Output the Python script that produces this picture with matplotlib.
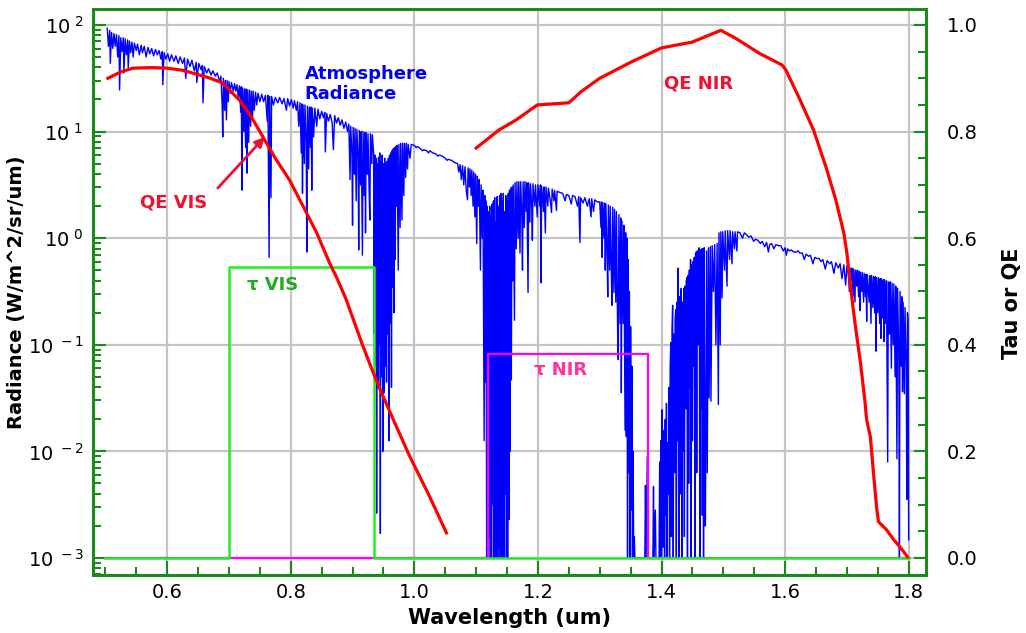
import numpy as np
import matplotlib
matplotlib.use("Agg")
import matplotlib.pyplot as plt
from matplotlib.ticker import FixedLocator, MultipleLocator, FuncFormatter, LogLocator, NullFormatter

# ---------------- data ----------------
# Atmosphere radiance spectrum: (wavelength um, log10 radiance W/m^2/sr/um)
radiance_pts = [
    (0.503, 1.97), (0.505, 1.80), (0.507, 1.95), (0.508, 1.64), (0.510, 1.93), (0.512, 1.78),
    (0.514, 1.92), (0.516, 1.80), (0.518, 1.91), (0.520, 1.70), (0.522, 1.90), (0.523, 1.39),
    (0.525, 1.88), (0.527, 1.75), (0.529, 1.88), (0.530, 1.55), (0.532, 1.87), (0.534, 1.72),
    (0.536, 1.86), (0.537, 1.60), (0.539, 1.85), (0.541, 1.74), (0.543, 1.84), (0.545, 1.70),
    (0.547, 1.83), (0.550, 1.76), (0.552, 1.82), (0.555, 1.72), (0.558, 1.81), (0.560, 1.74),
    (0.563, 1.80), (0.566, 1.70), (0.569, 1.79), (0.572, 1.73), (0.575, 1.78), (0.578, 1.71),
    (0.581, 1.77), (0.584, 1.72), (0.587, 1.76), (0.590, 1.68), (0.592, 1.75), (0.593, 1.44),
    (0.595, 1.74), (0.598, 1.68), (0.601, 1.73),
    (0.604, 1.66), (0.607, 1.72), (0.611, 1.66), (0.614, 1.71), (0.618, 1.64), (0.621, 1.70),
    (0.625, 1.64), (0.628, 1.69), (0.630, 1.50), (0.633, 1.68), (0.637, 1.61), (0.640, 1.67),
    (0.644, 1.57), (0.647, 1.65), (0.648, 1.46), (0.651, 1.64), (0.655, 1.58), (0.657, 1.62),
    (0.658, 1.27), (0.660, 1.61), (0.664, 1.55), (0.667, 1.59), (0.671, 1.53), (0.674, 1.57),
    (0.678, 1.52), (0.681, 1.55), (0.685, 1.47), (0.687, 1.52), (0.689, 1.25), (0.690, 0.95),
    (0.691, 1.50), (0.693, 1.20), (0.694, 1.48), (0.696, 1.11), (0.697, 1.48), (0.699, 1.28),
    (0.700, 1.47), (0.702, 1.36), (0.704, 1.46), (0.707, 1.38), (0.709, 1.45),
    (0.711, 1.38), (0.713, 1.44), (0.715, 1.32), (0.717, 1.43), (0.719, 1.18), (0.720, 1.42),
    (0.721, 0.45), (0.722, 1.41), (0.724, 1.00), (0.725, 1.40), (0.727, 0.85), (0.728, 1.40),
    (0.729, 0.61), (0.730, 1.39), (0.732, 0.90), (0.733, 1.39), (0.735, 1.05), (0.736, 1.38),
    (0.738, 1.10), (0.739, 1.38), (0.741, 1.20), (0.743, 1.37), (0.745, 1.25), (0.747, 1.36),
    (0.750, 1.28), (0.753, 1.35), (0.756, 1.28), (0.759, 1.34), (0.762, 1.10), (0.763, 1.34),
    (0.765, -0.18), (0.766, 1.33), (0.768, 0.38), (0.769, 1.33), (0.772, 1.25), (0.775, 1.32),
    (0.779, 1.27), (0.782, 1.32), (0.786, 1.26), (0.789, 1.31), (0.793, 1.20), (0.795, 1.31),
    (0.798, 1.24), (0.801, 1.30), (0.804, 1.22), (0.806, 1.29), (0.809, 1.20), (0.811, 1.28),
    (0.813, 1.05), (0.815, 1.27), (0.817, 0.80), (0.818, 1.26), (0.819, 0.42), (0.820, 1.25),
    (0.822, 0.70), (0.823, 1.25), (0.825, 0.90), (0.826, -0.13), (0.827, 1.24), (0.829, 0.65),
    (0.830, 1.23), (0.832, 0.85), (0.833, 1.23), (0.834, 0.45), (0.835, 1.22), (0.837, 0.95),
    (0.839, 1.22), (0.842, 1.05), (0.844, 1.21), (0.847, 1.12), (0.850, 1.19), (0.853, 1.13),
    (0.855, 1.18), (0.856, 0.81), (0.858, 1.17), (0.861, 1.10), (0.864, 1.16), (0.867, 1.08),
    (0.869, 0.83), (0.871, 1.15), (0.874, 1.08), (0.877, 1.13), (0.880, 1.06), (0.883, 1.11),
    (0.886, 1.03), (0.889, 1.09), (0.892, 1.00), (0.894, 1.07),
    (0.896, 0.55), (0.897, 1.05), (0.899, 0.80), (0.900, 0.12), (0.901, 1.04), (0.903, 0.60),
    (0.904, 1.03), (0.906, 0.35), (0.907, 1.02), (0.909, 0.75), (0.910, -0.11), (0.911, 1.01),
    (0.913, 0.50), (0.914, 1.00), (0.916, -0.16), (0.917, 1.00), (0.919, 0.40), (0.920, 0.99),
    (0.921, 0.05), (0.922, 0.99), (0.924, 0.60), (0.925, 0.98), (0.927, 0.40), (0.928, 0.17),
    (0.929, 0.98), (0.931, 0.70), (0.932, 0.97),
    (0.934, 0.80), (0.935, -0.90), (0.936, 0.78), (0.937, -1.20), (0.938, 0.75), (0.939, -2.58),
    (0.940, 0.70), (0.941, -1.40), (0.942, 0.76), (0.943, -1.00), (0.944, 0.80), (0.945, -2.77),
    (0.946, 0.72), (0.947, -1.30), (0.948, 0.78), (0.949, -2.00), (0.950, 0.70), (0.951, -1.45),
    (0.952, 0.75), (0.953, -1.20), (0.954, 0.70), (0.955, -1.35), (0.956, 0.72), (0.957, -0.90),
    (0.958, 0.75), (0.959, -1.90), (0.960, 0.78), (0.961, -0.80), (0.962, 0.80), (0.963, -1.40),
    (0.964, 0.82), (0.965, -0.46), (0.966, 0.84), (0.967, -0.70), (0.968, 0.85), (0.969, -0.20),
    (0.970, 0.86), (0.971, 0.30), (0.972, 0.87), (0.974, -0.30), (0.975, 0.88), (0.977, 0.10),
    (0.978, 0.89), (0.980, 0.17), (0.981, 0.89), (0.983, 0.40), (0.984, 0.89), (0.986, 0.57),
    (0.987, 0.89), (0.989, 0.65), (0.990, 0.88), (0.993, 0.75), (0.995, 0.88),
    (1.000, 0.87), (1.003, 0.85), (1.005, 0.86), (1.010, 0.84), (1.013, 0.82), (1.015, 0.83),
    (1.020, 0.82), (1.023, 0.80), (1.025, 0.82), (1.030, 0.80), (1.035, 0.79), (1.038, 0.77),
    (1.040, 0.78), (1.045, 0.77), (1.050, 0.75), (1.053, 0.73), (1.055, 0.74), (1.060, 0.73),
    (1.065, 0.71), (1.070, 0.70),
    (1.072, 0.62), (1.074, 0.69), (1.076, 0.55), (1.078, 0.68), (1.080, 0.50), (1.082, 0.67),
    (1.084, 0.45), (1.086, 0.36), (1.087, 0.66), (1.089, 0.48), (1.090, 0.65), (1.092, 0.40),
    (1.093, 0.64), (1.095, 0.30), (1.096, 0.62), (1.098, 0.20), (1.099, 0.60), (1.101, -0.05),
    (1.102, 0.58), (1.104, 0.30), (1.105, 0.55), (1.107, -0.30), (1.108, 0.50), (1.110, 0.00),
    (1.111, 0.45), (1.113, -1.90), (1.114, 0.40), (1.115, -1.35), (1.116, 0.35),
    (1.117, -3.0), (1.118, 0.30), (1.119, -3.0), (1.120, 0.25), (1.121, -2.8), (1.122, 0.30),
    (1.123, -3.0), (1.124, 0.20), (1.125, -3.0), (1.126, 0.32), (1.127, -2.5), (1.128, 0.35),
    (1.129, -3.0), (1.130, 0.38), (1.131, -3.0), (1.132, 0.15), (1.133, -3.0), (1.134, 0.39),
    (1.135, -3.0), (1.136, 0.30), (1.137, -2.9), (1.138, 0.40), (1.139, -3.0), (1.140, 0.42),
    (1.141, -3.0), (1.142, 0.35), (1.143, -3.0), (1.144, 0.42), (1.145, -3.0), (1.146, 0.25),
    (1.147, -2.4), (1.148, 0.40), (1.149, -3.0), (1.150, 0.35), (1.151, -3.0), (1.152, 0.42),
    (1.153, -2.64), (1.154, 0.45), (1.155, -2.0), (1.156, 0.47), (1.157, -1.33), (1.158, 0.48),
    (1.159, -0.40), (1.160, 0.50), (1.162, -0.77), (1.163, 0.52), (1.165, -0.10), (1.166, 0.53),
    (1.168, 0.00), (1.169, 0.53), (1.171, -0.14), (1.172, 0.53), (1.174, 0.20), (1.175, -0.30),
    (1.176, 0.53), (1.178, 0.10), (1.179, 0.53), (1.181, 0.25), (1.182, 0.52), (1.184, -0.51),
    (1.185, 0.52), (1.187, 0.15), (1.188, 0.51), (1.190, 0.30), (1.191, -0.02), (1.192, 0.51),
    (1.195, 0.30), (1.196, 0.50), (1.199, 0.20), (1.200, 0.50), (1.203, 0.30), (1.204, 0.50),
    (1.205, -0.42), (1.206, 0.49), (1.209, 0.25), (1.210, 0.48), (1.212, 0.05), (1.213, 0.48),
    (1.216, 0.30), (1.217, 0.47), (1.220, 0.35), (1.222, 0.24), (1.223, 0.46), (1.226, 0.35),
    (1.227, 0.45), (1.230, 0.26), (1.231, 0.44), (1.235, 0.43),
    (1.240, 0.42), (1.244, 0.35), (1.246, 0.41), (1.250, 0.40), (1.254, 0.32), (1.256, 0.40),
    (1.260, 0.39), (1.264, 0.30), (1.266, 0.39), (1.268, -0.04), (1.269, 0.38), (1.273, 0.33),
    (1.276, 0.38), (1.280, 0.30), (1.283, 0.37), (1.286, 0.20), (1.287, 0.37), (1.290, 0.25),
    (1.292, 0.36), (1.296, 0.34),
    (1.300, 0.34), (1.302, 0.10), (1.303, 0.34), (1.304, -0.18), (1.305, 0.33), (1.307, 0.00),
    (1.308, 0.33), (1.309, -0.30), (1.310, 0.32), (1.312, -0.20), (1.313, -0.55), (1.314, 0.31),
    (1.316, -0.30), (1.317, 0.30), (1.319, -0.40), (1.320, -0.63), (1.321, 0.29), (1.323, -0.51),
    (1.324, 0.27), (1.326, -0.60), (1.327, 0.25), (1.329, -0.90), (1.330, -1.14), (1.331, 0.22),
    (1.333, -0.80), (1.334, 0.19), (1.335, -1.45), (1.336, 0.16), (1.338, -0.80), (1.339, 0.12),
    (1.341, -1.80), (1.342, 0.05),
    (1.343, -1.86), (1.344, 0.00), (1.345, -3.0), (1.346, -0.20), (1.347, -2.2), (1.348, -0.50),
    (1.349, -3.0), (1.350, -0.83), (1.351, -2.55), (1.352, -1.20), (1.353, -3.0), (1.354, -2.0),
    (1.355, -3.0), (1.356, -2.8), (1.357, -3.0),
    (1.362, -3.0), (1.370, -3.0), (1.373, -3.0), (1.374, -2.32), (1.375, -3.0), (1.377, -2.05),
    (1.378, -3.0), (1.386, -3.0), (1.387, -2.33), (1.388, -3.0), (1.390, -2.55), (1.391, -3.0),
    (1.395, -3.0),
    (1.396, -3.0), (1.397, -2.1), (1.398, -3.0), (1.399, -1.9), (1.400, -3.0), (1.401, -1.61),
    (1.402, -2.9), (1.403, -2.2), (1.404, -1.80), (1.405, -3.0), (1.406, -1.7), (1.407, -2.6),
    (1.408, -1.55), (1.409, -3.0), (1.410, -1.92), (1.411, -2.4), (1.412, -1.40), (1.413, -3.0),
    (1.414, -1.2), (1.415, -0.98), (1.416, -2.8), (1.417, -0.85), (1.418, -0.63), (1.419, -3.0),
    (1.420, -0.90), (1.421, -2.2), (1.422, -0.75), (1.423, -0.67), (1.424, -3.0), (1.425, -0.60),
    (1.426, -1.9), (1.427, -0.28), (1.428, -3.0), (1.429, -0.55), (1.430, -2.4), (1.431, -0.50),
    (1.432, -0.47), (1.433, -3.0), (1.434, -0.60), (1.435, -2.0), (1.436, -0.47), (1.437, -2.8),
    (1.438, -0.45), (1.439, -1.6), (1.440, -0.40), (1.441, -0.37), (1.442, -3.0), (1.443, -0.35),
    (1.444, -2.3), (1.445, -0.30), (1.446, -1.4), (1.447, -0.20), (1.448, -3.0), (1.449, -0.25),
    (1.450, -1.9), (1.451, -0.22), (1.452, -1.2), (1.453, -0.18), (1.454, -3.0), (1.455, -0.15),
    (1.456, -0.13), (1.457, -2.2), (1.458, -0.12), (1.459, -1.0), (1.460, -0.10), (1.461, -0.09),
    (1.462, -3.0), (1.463, -0.11), (1.464, -1.6), (1.465, -0.10), (1.466, -2.6), (1.467, -0.10),
    (1.468, -3.0), (1.469, -0.09), (1.470, -1.9),
    (1.471, -2.7), (1.473, -0.12), (1.474, -2.2), (1.476, -0.09), (1.477, -1.5), (1.479, -0.08),
    (1.480, -1.53), (1.482, -0.07), (1.484, -0.50), (1.486, -0.06), (1.488, -1.00), (1.490, -0.05),
    (1.492, -1.56), (1.493, 0.05), (1.495, -1.00), (1.496, 0.06), (1.498, -0.56), (1.499, 0.06),
    (1.502, -0.30), (1.503, 0.07), (1.506, -0.45), (1.507, 0.07), (1.510, -0.20), (1.511, 0.07),
    (1.514, -0.24), (1.515, 0.06), (1.518, -0.10), (1.519, 0.06), (1.522, -0.12), (1.523, 0.06),
    (1.527, 0.05), (1.531, 0.00), (1.534, 0.05), (1.538, 0.03), (1.541, 0.01), (1.545, 0.02),
    (1.549, -0.03), (1.552, -0.01), (1.556, -0.02), (1.560, -0.05), (1.563, -0.03), (1.567, -0.08),
    (1.570, -0.04), (1.573, -0.13), (1.575, -0.06), (1.578, -0.05), (1.582, -0.10), (1.585, -0.06),
    (1.589, -0.07), (1.593, -0.07), (1.597, -0.12), (1.600, -0.09), (1.602, -0.16), (1.604, -0.10),
    (1.607, -0.12), (1.610, -0.11), (1.614, -0.13), (1.618, -0.13), (1.621, -0.12), (1.624, -0.14),
    (1.628, -0.14), (1.631, -0.20), (1.634, -0.15), (1.638, -0.17), (1.641, -0.16), (1.645, -0.24),
    (1.648, -0.18), (1.651, -0.19), (1.655, -0.19), (1.658, -0.22), (1.661, -0.20), (1.665, -0.29),
    (1.668, -0.21), (1.672, -0.24), (1.675, -0.22), (1.679, -0.33), (1.682, -0.23), (1.686, -0.28),
    (1.689, -0.24), (1.692, -0.38), (1.695, -0.25), (1.698, -0.44), (1.700, -0.26),
    (1.702, -0.30), (1.704, -0.50), (1.705, -0.28), (1.707, -0.40), (1.708, -0.28), (1.710, -0.55),
    (1.711, -0.29), (1.713, -0.60), (1.714, -0.30), (1.716, -0.45), (1.717, -0.30), (1.719, -0.55),
    (1.720, -0.31), (1.721, -0.68), (1.722, -0.32), (1.724, -0.50), (1.725, -0.32), (1.727, -0.60),
    (1.728, -0.33), (1.730, -0.55), (1.731, -0.34), (1.732, -0.78), (1.733, -0.34), (1.736, -0.60),
    (1.737, -0.35), (1.739, -0.80), (1.740, -0.35), (1.742, -0.65), (1.743, -0.36), (1.745, -0.70),
    (1.746, -0.36), (1.747, -1.06), (1.748, -0.37), (1.750, -0.70), (1.751, -0.37), (1.753, -0.80),
    (1.754, -0.38), (1.755, -0.94), (1.756, -0.38), (1.758, -0.75), (1.759, -0.39), (1.760, -0.97),
    (1.761, -0.39), (1.763, -0.80), (1.764, -0.40), (1.766, -2.10), (1.767, -0.41), (1.769, -0.90),
    (1.770, -0.41), (1.772, -1.22), (1.773, -0.42), (1.775, -1.00), (1.776, -0.43), (1.778, -1.30),
    (1.779, -0.45), (1.781, -2.07), (1.782, -0.47), (1.784, -1.10), (1.785, -3.0), (1.786, -0.50),
    (1.788, -1.20), (1.789, -0.55), (1.790, -1.44), (1.791, -0.60), (1.793, -1.46), (1.794, -0.65),
    (1.796, -1.20), (1.797, -2.45), (1.798, -0.70), (1.799, -0.78), (1.800, -2.83),
]

qe_vis_wl = [0.504, 0.525, 0.545, 0.575, 0.600, 0.625, 0.653, 0.670, 0.690, 0.705, 0.717,
             0.735, 0.755, 0.775, 0.798, 0.820, 0.842, 0.863, 0.874, 0.890, 0.916, 0.932,
             0.944, 0.965, 0.992, 1.024, 1.052]
qe_vis = [0.900, 0.912, 0.919, 0.920, 0.919, 0.915, 0.906, 0.900, 0.891, 0.873, 0.859,
          0.830, 0.790, 0.750, 0.709, 0.660, 0.610, 0.553, 0.527, 0.484, 0.400, 0.352,
          0.318, 0.262, 0.192, 0.117, 0.047]

qe_nir_wl = [1.100, 1.137, 1.165, 1.199, 1.250, 1.270, 1.300, 1.350, 1.400, 1.450, 1.496,
             1.520, 1.558, 1.595, 1.601, 1.622, 1.646, 1.666, 1.682, 1.695, 1.700, 1.706,
             1.711, 1.714, 1.722, 1.729, 1.732, 1.738, 1.743, 1.748, 1.751, 1.764, 1.776,
             1.787, 1.798]
qe_nir = [0.769, 0.803, 0.822, 0.850, 0.854, 0.875, 0.900, 0.930, 0.957, 0.968, 0.990,
          0.975, 0.947, 0.925, 0.916, 0.865, 0.803, 0.734, 0.672, 0.610, 0.572, 0.508,
          0.460, 0.433, 0.366, 0.296, 0.259, 0.227, 0.159, 0.096, 0.068, 0.053, 0.034,
          0.019, 0.002]

tau_vis_wl = [0.500, 0.700, 0.700, 0.935, 0.935, 1.800]
tau_vis = [0.0, 0.0, 0.545, 0.545, 0.0, 0.0]
tau_nir_wl = [0.500, 1.120, 1.120, 1.378, 1.378, 1.800]
tau_nir = [0.0, 0.0, 0.383, 0.383, 0.0, 0.0]

x_ticks = [0.6, 0.8, 1.0, 1.2, 1.4, 1.6, 1.8]
left_decades = [-3, -2, -1, 0, 1, 2]
right_ticks = [0.0, 0.2, 0.4, 0.6, 0.8, 1.0]

# ---------------- figure ----------------
FRAME = '#1a8a1a'
fig = plt.figure(figsize=(10.26, 6.33), dpi=100)
ax = fig.add_axes([93 / 1026, 1 - 575 / 633, 833 / 1026, 566 / 633])
ax.set_yscale('log')
ax.set_xlim(0.48, 1.828)
ax.set_ylim(10 ** -3.16, 10 ** 2.15)

ax.grid(True, which='major', color='#c4c4c4', lw=1.6)
ax.set_axisbelow(True)

rw = np.array([p[0] for p in radiance_pts])
rv = 10 ** np.array([p[1] for p in radiance_pts])
ax.plot(rw, rv, color='#0000ff', lw=1.0, zorder=3)

ax2 = ax.twinx()
ax2.set_ylim(-0.032, 1.030)
ax2.plot(tau_nir_wl, tau_nir, color='#ff00ff', lw=1.6, zorder=2)
ax2.plot(tau_vis_wl, tau_vis, color='#22ee22', lw=1.8, zorder=3)
ax2.plot(qe_vis_wl, qe_vis, color='#ff0000', lw=2.3, zorder=4)
ax2.plot(qe_nir_wl, qe_nir, color='#ff0000', lw=2.3, zorder=4)

# ticks
ax.xaxis.set_major_locator(FixedLocator(x_ticks))
ax.xaxis.set_major_formatter(FuncFormatter(lambda v, p: f"{v:.1f}"))
ax.xaxis.set_minor_locator(MultipleLocator(0.05))
ax.yaxis.set_major_locator(FixedLocator([10.0 ** d for d in left_decades]))
ax.yaxis.set_major_formatter(FuncFormatter(
    lambda v, p: "10$^{\\ %d}$" % int(round(np.log10(v)))))
ax.yaxis.set_minor_locator(LogLocator(base=10, subs=np.arange(2, 10), numticks=20))
ax.yaxis.set_minor_formatter(NullFormatter())
ax2.yaxis.set_major_locator(FixedLocator(right_ticks))
ax2.yaxis.set_major_formatter(FuncFormatter(lambda v, p: f"{v:.1f}"))
ax2.yaxis.set_minor_locator(MultipleLocator(0.05))

ax.tick_params(axis='x', which='both', direction='in', top=False, color=FRAME,
               labelsize=14, pad=6)
ax.tick_params(axis='x', which='major', length=10, width=1.5)
ax.tick_params(axis='x', which='minor', length=6, width=1.5)
ax.tick_params(axis='y', which='both', direction='in', right=False, color=FRAME,
               labelsize=14, pad=7)
ax.tick_params(axis='y', which='major', length=9, width=1.5)
ax.tick_params(axis='y', which='minor', length=6, width=1.5)
ax2.tick_params(axis='y', which='both', direction='in', color=FRAME, labelsize=14, pad=15)
ax2.tick_params(axis='y', which='major', length=9, width=1.5)
ax2.tick_params(axis='y', which='minor', length=6, width=1.5)

for a in (ax, ax2):
    for s in a.spines.values():
        s.set_color(FRAME)
        s.set_linewidth(2.0)

ax.set_xlabel('Wavelength (um)', fontsize=15, fontweight='bold', labelpad=4)
ax.set_ylabel('Radiance (W/m^2/sr/um)', fontsize=14, fontweight='bold')
ax.yaxis.set_label_coords(-0.080, 0.5)
ax2.set_ylabel('Tau or QE', fontsize=15, fontweight='bold')
ax2.yaxis.set_label_coords(1.091, 0.48)

# annotations
ax2.text(0.8225, 0.889, 'Atmosphere\nRadiance', color='#0000ee', fontsize=13,
         fontweight='bold', ha='left', va='center', linespacing=1.15)
ax2.text(1.404, 0.891, 'QE NIR', color='#ee1133', fontsize=13, fontweight='bold',
         ha='left', va='center')
ax2.text(0.556, 0.666, 'QE VIS', color='#ee1133', fontsize=13, fontweight='bold',
         ha='left', va='center')
ax2.text(0.730, 0.512, 'τ VIS', color='#22aa22', fontsize=13, fontweight='bold',
         ha='left', va='center')
ax2.text(1.194, 0.353, 'τ NIR', color='#ff3399', fontsize=13, fontweight='bold',
         ha='left', va='center')
ax2.annotate('', xy=(0.758, 0.790), xytext=(0.682, 0.694),
             arrowprops=dict(arrowstyle='-|>', color='#ee1133', lw=2.0,
                             mutation_scale=14, shrinkA=0, shrinkB=0))

fig.savefig('out.png', dpi=100)
